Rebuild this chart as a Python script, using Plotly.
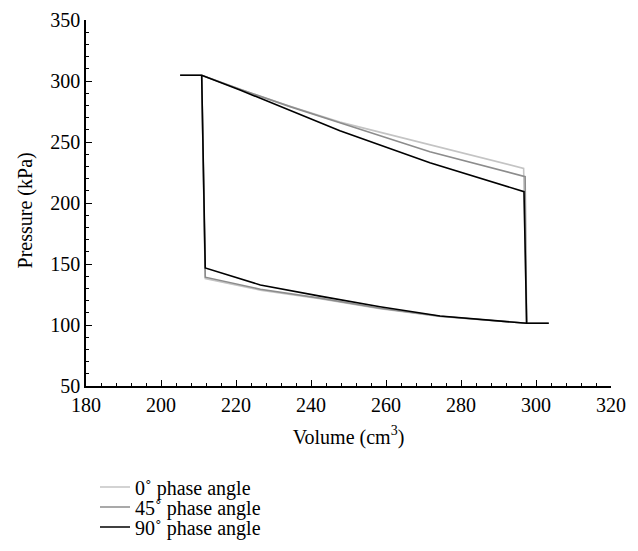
import plotly.graph_objects as go

# ---- data ----
v_start, p_top = 205.1, 304.7
v_left_top, v_end = 210.85, 303.4
v_right_bot, p_bot = 297.5, 101.4

# top (expansion) curves: volume, pressure
top_v_0 = [210.85, 221.07, 234.4, 247.7, 271.7, 296.7]
top_p_0 = [304.7, 293.2, 279.3, 266.3, 247.5, 228.4]
top_v_45 = [210.85, 221.07, 234.4, 247.7, 271.7, 297.1]
top_p_45 = [304.7, 293.2, 279.0, 265.8, 242.0, 221.6]
top_v_90 = [210.85, 221.07, 234.4, 247.7, 271.7, 296.8]
top_p_90 = [304.7, 292.6, 276.2, 259.3, 233.0, 209.3]

# bottom (compression) curves: volume, pressure
bot_v_0 = [211.8, 226.5, 242.4, 258.4, 274.4, 297.5]
bot_p_0 = [138.0, 128.6, 121.5, 113.3, 107.0, 101.4]
bot_v_45 = [211.8, 226.5, 242.4, 258.4, 274.4, 297.5]
bot_p_45 = [139.2, 129.3, 122.0, 113.7, 107.2, 101.4]
bot_v_90 = [211.8, 226.5, 242.4, 258.4, 274.4, 297.5]
bot_p_90 = [146.7, 132.8, 123.7, 115.0, 107.4, 101.4]

names = ["0\u02da phase angle", "45\u02da phase angle", "90\u02da phase angle"]
colors = ["#c4c4c4", "#8c8c8c", "#000000"]
x_title = "Volume (cm<sup>3</sup>)"
y_title = "Pressure (kPa)"

FONT = "Liberation Serif"
FS = 20


def loop(tv, tp, bv, bp):
    xs = [v_start] + tv + [v_right_bot, v_end, v_right_bot] + bv[::-1][1:] + [v_left_top]
    ys = [p_top] + tp + [p_bot, p_bot, p_bot] + bp[::-1][1:] + [p_top]
    return xs, ys


series = [
    (top_v_0, top_p_0, bot_v_0, bot_p_0),
    (top_v_45, top_p_45, bot_v_45, bot_p_45),
    (top_v_90, top_p_90, bot_v_90, bot_p_90),
]
legend_ids = ["legend", "legend2", "legend3"]

fig = go.Figure()
for (tv, tp, bv, bp), name, col, lg in zip(series, names, colors, legend_ids):
    xs, ys = loop(tv, tp, bv, bp)
    fig.add_trace(go.Scatter(x=xs, y=ys, mode="lines", name=name, legend=lg,
                             line=dict(color=col, width=1.6)))

axis_common = dict(
    showgrid=False, zeroline=False, showline=True, linecolor="black", linewidth=1.5,
    ticks="inside", ticklen=6, tickwidth=1.3, tickcolor="black",
    tickfont=dict(family=FONT, size=FS, color="black"),
    mirror=False, automargin=False,
)

fig.update_xaxes(range=[180, 320], dtick=20, tick0=180,
                 minor=dict(ticks="inside", ticklen=3, dtick=4, tickcolor="black", tickwidth=1),
                 title=dict(text=x_title, font=dict(family=FONT, size=FS, color="black")),
                 **axis_common)
fig.update_yaxes(range=[50, 350], dtick=50, tick0=50,
                 minor=dict(ticks="inside", ticklen=3, dtick=10, tickcolor="black", tickwidth=1),
                 **axis_common)

fig.add_annotation(text=y_title, xref="paper", yref="paper", x=-0.116, y=0.48,
                   textangle=-90, showarrow=False, xanchor="center", yanchor="middle",
                   font=dict(family=FONT, size=FS, color="black"))

H = 551.0
row_y = [487, 507, 527]
leg_common = dict(x=95 / 638.0, xref="container", yref="container", xanchor="left", yanchor="middle",
                  font=dict(family=FONT, size=FS, color="black"),
                  bgcolor="rgba(0,0,0,0)", itemwidth=30, borderwidth=0)

fig.update_layout(
    width=638, height=551,
    margin=dict(l=86, r=27, t=20, b=165, autoexpand=False),
    paper_bgcolor="white", plot_bgcolor="white",
    font=dict(family=FONT, color="black"),
    showlegend=True,
    legend=dict(y=1 - row_y[0] / H, **leg_common),
    legend2=dict(y=1 - row_y[1] / H, **leg_common),
    legend3=dict(y=1 - row_y[2] / H, **leg_common),
)

fig.write_html("out.html")
